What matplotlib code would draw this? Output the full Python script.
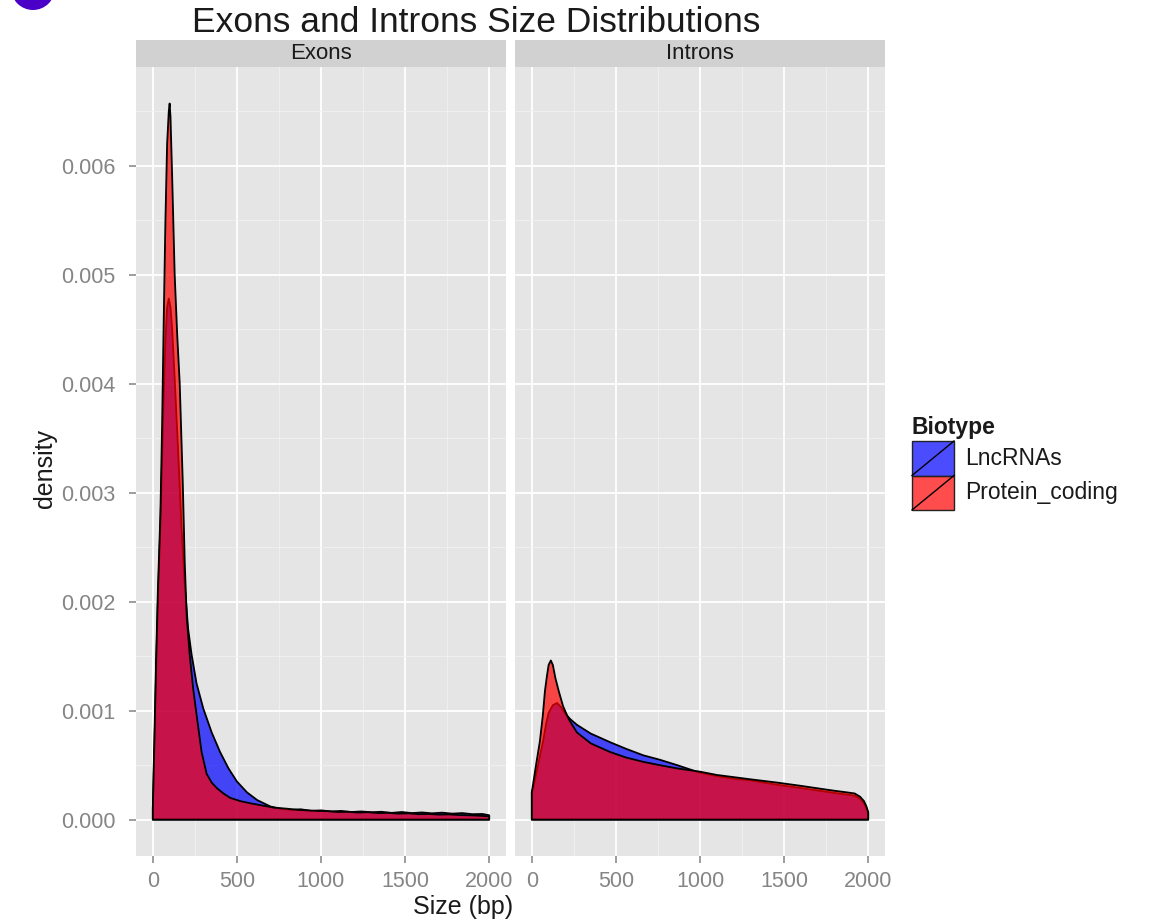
import numpy as np
import matplotlib
matplotlib.use("Agg")
import matplotlib.pyplot as plt
from matplotlib.colors import to_rgba
from matplotlib.patches import Rectangle, Circle

plt.rcParams['font.family'] = ['Liberation Sans', 'DejaVu Sans']

# ---------------- data (density values) ----------------
biotypes = ["LncRNAs", "Protein_coding"]
panels = ["Exons", "Introns"]
fill_colors = ["#0000FF", "#FF0000"]

x_ticks = [0, 500, 1000, 1500, 2000]
y_ticks = [0.000, 0.001, 0.002, 0.003, 0.004, 0.005, 0.006]

# Exons - LncRNAs
exon_lnc_x = [0, 10, 20, 30, 45, 55, 65, 75, 85, 95, 105, 115, 130, 150, 170, 190, 210, 230,
              260, 300, 350, 400, 450, 500, 560, 620, 700, 760, 820, 880, 940, 1000, 1060,
              1120, 1180, 1240, 1300, 1360, 1420, 1480, 1540, 1600, 1660, 1720, 1780, 1840,
              1900, 1960, 2000]
exon_lnc_d = [0.0001, 0.0007, 0.0014, 0.0020, 0.0027, 0.0033, 0.0039, 0.0044, 0.00470, 0.00478,
              0.00470, 0.00450, 0.00405, 0.00340, 0.00270, 0.00215, 0.00175, 0.00152,
              0.00125, 0.00102, 0.00080, 0.00062, 0.00047, 0.00035, 0.00025, 0.00018, 0.00012,
              0.000100, 0.000090, 0.000095, 0.000080, 0.000085, 0.000075, 0.000080, 0.000070,
              0.000075, 0.000068, 0.000072, 0.000062, 0.000070, 0.000060, 0.000066, 0.000058,
              0.000064, 0.000055, 0.000060, 0.000050, 0.000052, 0.000040]

# Exons - Protein_coding
exon_pc_x = [0, 10, 20, 30, 45, 55, 65, 75, 85, 95, 100, 105, 115, 130, 145, 160, 178, 190,
             202, 220, 240, 262, 290, 320, 350, 380, 420, 460, 520, 580, 650, 720, 800, 860,
             920, 980, 1040, 1100, 1160, 1220, 1280, 1340, 1400, 1460, 1520, 1580, 1640, 1700,
             1760, 1820, 1880, 1940, 2000]
exon_pc_d = [0.0001, 0.0008, 0.0015, 0.0021, 0.0028, 0.0036, 0.0046, 0.0055, 0.0062, 0.00650,
             0.00657, 0.00645, 0.00590, 0.00500, 0.00445, 0.00400, 0.00310, 0.00235,
             0.00185, 0.00150, 0.00120, 0.00094, 0.00062, 0.00042, 0.00034, 0.00029, 0.00024,
             0.00020, 0.00017, 0.00015, 0.00013, 0.00011, 0.00010, 0.000090, 0.000085,
             0.000080, 0.000078, 0.000070, 0.000072, 0.000065, 0.000068, 0.000060, 0.000062,
             0.000055, 0.000058, 0.000050, 0.000052, 0.000046, 0.000048, 0.000042, 0.000040,
             0.000036, 0.000030]

# Introns - LncRNAs
intron_lnc_x = [0, 10, 30, 50, 67, 85, 100, 125, 150, 175, 200, 230, 268, 350, 466, 560, 663,
                760, 864, 1000, 1100, 1200, 1300, 1458, 1600, 1732, 1800, 1874, 1920, 1952,
                1975, 1990, 2000]
intron_lnc_d = [0.00025, 0.00030, 0.00045, 0.00060, 0.00072, 0.00088, 0.00098, 0.00105,
                0.00107, 0.00103, 0.00097, 0.00092, 0.00087, 0.00079, 0.00071, 0.00065,
                0.00059, 0.00055, 0.00050, 0.00043, 0.00040, 0.000375, 0.00036, 0.00032,
                0.00029, 0.00026, 0.000245, 0.00023, 0.00022, 0.00019, 0.00015, 0.00010,
                0.00006]

# Introns - Protein_coding
intron_pc_x = [0, 10, 25, 48, 65, 78, 90, 100, 113, 125, 140, 160, 186, 220, 268, 350, 466,
               560, 663, 760, 864, 1000, 1100, 1200, 1300, 1458, 1600, 1732, 1800, 1874, 1920,
               1952, 1975, 1990, 2000]
intron_pc_d = [0.00025, 0.00035, 0.00050, 0.00072, 0.00095, 0.00118, 0.00132, 0.00142,
               0.00146, 0.00142, 0.00130, 0.00118, 0.00104, 0.00092, 0.00080, 0.00070,
               0.00062, 0.00057, 0.00053, 0.00050, 0.00047, 0.00044, 0.00041, 0.000390,
               0.00037, 0.00034, 0.00031, 0.00028, 0.000265, 0.00025, 0.00024, 0.00021,
               0.00017, 0.00012, 0.00007]

series = {
    "Exons": [(exon_lnc_x, exon_lnc_d), (exon_pc_x, exon_pc_d)],
    "Introns": [(intron_lnc_x, intron_lnc_d), (intron_pc_x, intron_pc_d)],
}

# ---------------- layout ----------------
W, H = 1151, 921
fig = plt.figure(figsize=(W / 100, H / 100), dpi=100)

def fx(px):
    return px / W

def fy(py):
    return 1 - py / H

panel_top, panel_bot = 67.5, 855.5
strip_top = 40
panel_lr = {"Exons": (136, 506), "Introns": (515, 885)}

panel_bg = "#E5E5E5"
strip_bg = "#D1D1D1"
tick_col = "#8C8C8C"
ylim = (-0.000329, 0.0069)
xlim = (-100, 2100)

for i, name in enumerate(panels):
    l, r = panel_lr[name]
    ax = fig.add_axes([fx(l), fy(panel_bot), (r - l) / W, (panel_bot - panel_top) / H])
    ax.set_facecolor(panel_bg)
    for s in ax.spines.values():
        s.set_visible(False)
    ax.set_xlim(*xlim)
    ax.set_ylim(*ylim)
    ax.set_xticks(x_ticks)
    ax.set_xticks([250, 750, 1250, 1750], minor=True)
    ax.set_yticks(y_ticks)
    ax.set_yticks([0.0005, 0.0015, 0.0025, 0.0035, 0.0045, 0.0055, 0.0065], minor=True)
    ax.grid(which="major", color="white", lw=1.3)
    ax.grid(which="minor", color="#F2F2F2", lw=0.6)
    ax.set_axisbelow(True)
    ax.tick_params(axis="both", which="minor", length=0)
    ax.tick_params(axis="both", which="major", color=tick_col, length=5, width=1.2,
                   labelcolor="#858585", labelsize=15.5)
    ax.tick_params(axis="x", pad=6)
    ax.tick_params(axis="y", pad=10)
    ax.set_xticklabels([str(v) for v in x_ticks])
    if i == 0:
        ax.set_yticklabels(["%.3f" % v for v in y_ticks])
    else:
        ax.tick_params(axis="y", length=0, labelleft=False)

    for (xs, ds), col in zip(series[name], fill_colors):
        xs = np.asarray(xs, float)
        ds = np.asarray(ds, float)
        px = np.concatenate([[xs[0]], xs, [xs[-1]]])
        py = np.concatenate([[0.0], ds, [0.0]])
        ax.fill(px, py, facecolor=to_rgba(col, 0.7), edgecolor="black", lw=1.3,
                joinstyle="round", zorder=3)

    # strip
    sax = fig.add_axes([fx(l), fy(panel_top), (r - l) / W, (panel_top - strip_top) / H])
    sax.set_facecolor(strip_bg)
    sax.set_xticks([])
    sax.set_yticks([])
    for s in sax.spines.values():
        s.set_visible(False)
    sax.text(0.5, 0.5, name, ha="center", va="center", fontsize=16, color="#1A1A1A",
             transform=sax.transAxes)

# ---------------- overlay: titles, legend, corner mark ----------------
ov = fig.add_axes([0, 0, 1, 1], facecolor="none")
ov.set_xlim(0, W)
ov.set_ylim(H, 0)
ov.axis("off")

ov.text(476, 22, "Exons and Introns Size Distributions", ha="center", va="center",
        fontsize=25.5, color="#1A1A1A")
ov.text(463, 907, "Size (bp)", ha="center", va="center", fontsize=18, color="#1A1A1A")
ov.text(45, 468, "density", ha="center", va="center", fontsize=18, rotation=90,
        color="#1A1A1A")

ov.add_patch(Circle((33, -12), 22, facecolor="#4B00C8", edgecolor="none"))

# legend
ov.text(912, 427, "Biotype", ha="left", va="center", fontsize=16.5, fontweight="bold",
        color="#1A1A1A")
key_x, key_w, key_h = 912, 42, 34.5
key_tops = [441, 475.5]
for lab, col, top in zip(biotypes, fill_colors, key_tops):
    ov.add_patch(Rectangle((key_x, top), key_w, key_h, facecolor=to_rgba(col, 0.7),
                           edgecolor="#222222", lw=1.0))
    ov.plot([key_x, key_x + key_w], [top + key_h, top], color="black", lw=1.0)
    ov.text(965, top + key_h / 2, lab, ha="left", va="center", fontsize=16.5,
            color="#1A1A1A")

fig.savefig("out.png", dpi=100)
